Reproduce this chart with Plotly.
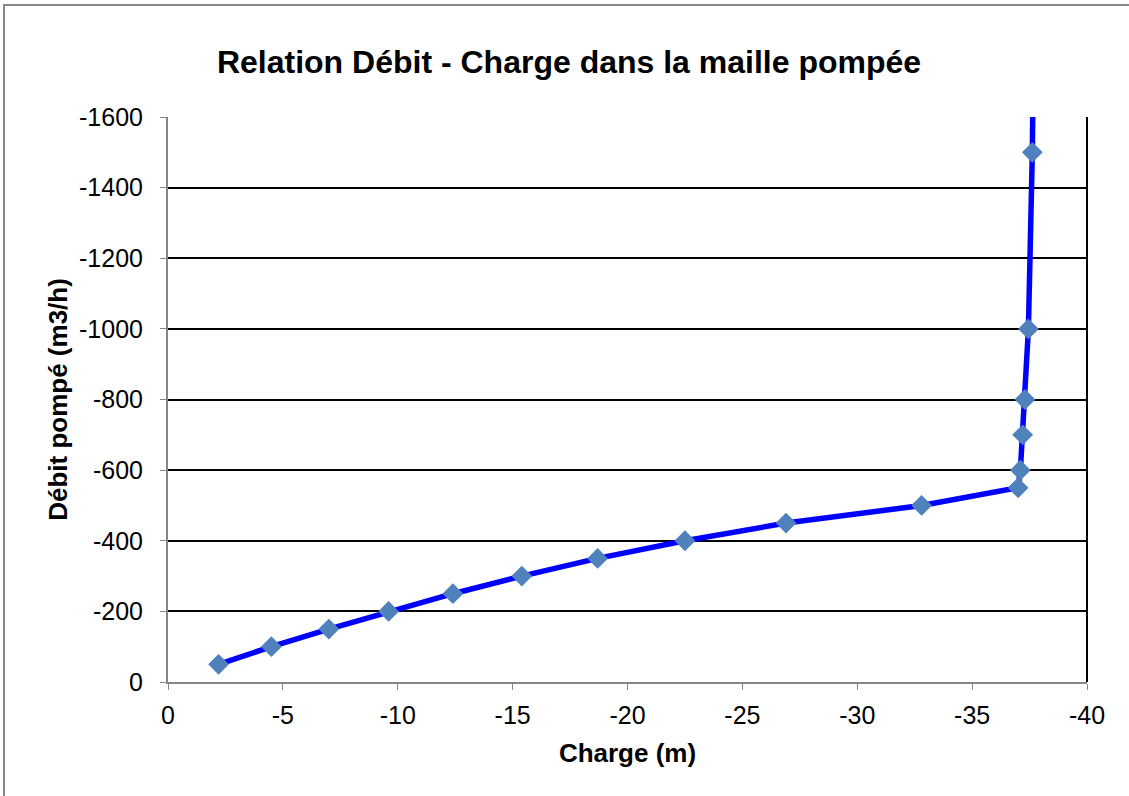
import plotly.graph_objects as go

charge = [-2.2, -4.5, -7.0, -9.6, -12.4, -15.4, -18.7, -22.5, -26.9, -32.8,
          -37.0, -37.1, -37.2, -37.3, -37.45, -37.62, -37.7]
debit = [-50, -100, -150, -200, -250, -300, -350, -400, -450, -500,
         -550, -600, -700, -800, -1000, -1500, -2000]

x_ticks = [0, -5, -10, -15, -20, -25, -30, -35, -40]
y_ticks = [0, -200, -400, -600, -800, -1000, -1200, -1400, -1600]

W, H = 1129, 796
L, R, T, B = 168, 1087, 117, 682

fig = go.Figure()
fig.add_trace(go.Scatter(
    x=charge, y=debit, mode="lines+markers",
    line=dict(color="#0000FF", width=5.5),
    marker=dict(symbol="diamond", size=16, color="#4F81BD",
                line=dict(width=0)),
    showlegend=False,
))

font = "Liberation Sans, Arial, sans-serif"
fig.update_layout(
    width=W, height=H,
    margin=dict(l=L, r=W - R, t=T, b=H - B),
    paper_bgcolor="white", plot_bgcolor="white",
    font=dict(family=font, size=25, color="black"),
    title=dict(text="<b>Relation Débit - Charge dans la maille pompée</b>",
               x=569 / W, xref="container", xanchor="center",
               y=1 - 62 / H, yref="container", yanchor="middle",
               font=dict(size=32, family=font, color="black")),
    xaxis=dict(range=[0, -40], tickvals=x_ticks, ticktext=[str(v) for v in x_ticks],
               showgrid=False, zeroline=False, showline=True, linecolor="#868686",
               linewidth=2, ticks="outside", ticklen=6, tickcolor="#868686",
               tickfont=dict(size=25), ticklabelstandoff=4,
               title=dict(text="<b>Charge (m)</b>", font=dict(size=26), standoff=16)),
    yaxis=dict(range=[0, -1600], tickvals=y_ticks, ticktext=[str(v) for v in y_ticks],
               showgrid=True, gridcolor="black", gridwidth=2, zeroline=False,
               showline=True, linecolor="#868686", linewidth=2,
               ticks="outside", ticklen=6, tickcolor="#868686",
               tickfont=dict(size=25), ticklabelstandoff=12,
               title=dict(text="<b>Débit pompé (m3/h)</b>", font=dict(size=26), standoff=4)),
)

pw, ph = R - L, B - T
fig.add_shape(type="line", xref="paper", yref="paper", x0=1, x1=1, y0=0, y1=1,
              line=dict(color="black", width=2))
fig.add_shape(type="rect", xref="paper", yref="paper",
              x0=(4 - L) / pw, x1=(W + 10 - L) / pw,
              y0=(B - (H + 10)) / ph, y1=(B - 5) / ph,
              line=dict(color="#888888", width=2), fillcolor="rgba(0,0,0,0)",
              layer="below")

fig.write_html("out.html", config={"displayModeBar": False},
               post_script="document.body.style.margin='0';document.body.style.overflow='hidden';")
